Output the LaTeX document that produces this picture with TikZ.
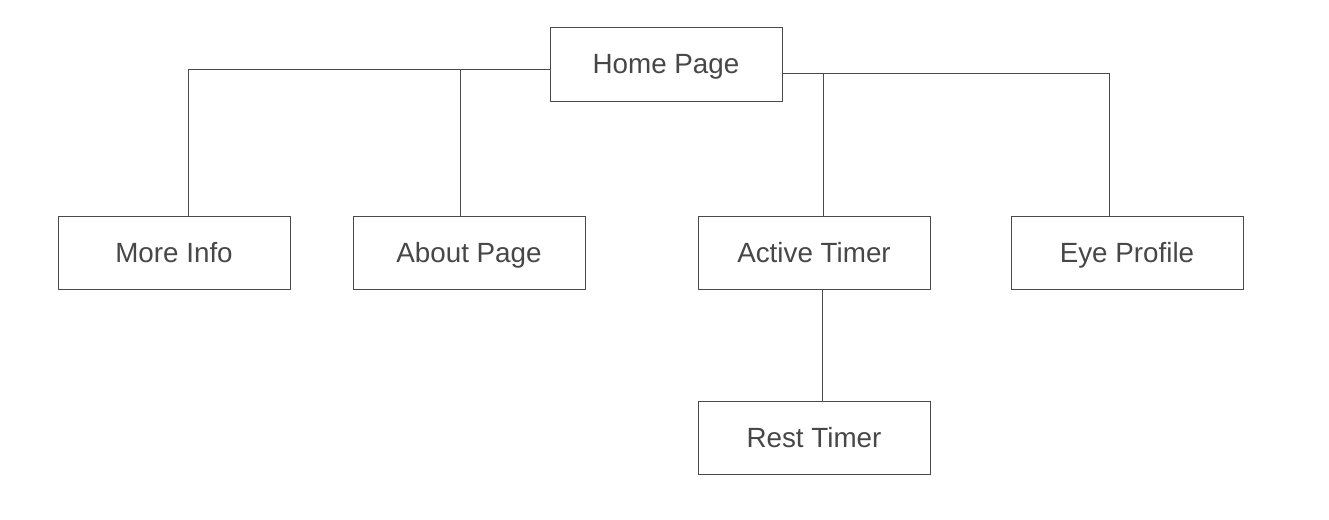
\documentclass[tikz,border=0pt]{standalone}
\usepackage{fontspec}
\setmainfont{Liberation Sans}
\begin{document}
\begin{tikzpicture}[x=1pt,y=-1pt,
  page/.style={draw=linegray, line width=1pt, minimum width=232pt, minimum height=73pt,
    inner sep=0pt, text height=22pt, text depth=3pt, text=textgray,
    font=\fontsize{27.8}{30}\selectfont},
  link/.style={draw=linegray, line width=1pt}]
\definecolor{linegray}{HTML}{4A4A4A}
\definecolor{textgray}{HTML}{474747}
\useasboundingbox (0,0) rectangle (1329,519);
% pages
\node[page] (home)   at (666,64.5)  {Home Page};
\node[page] (more)   at (174,252.5) {More Info};
\node[page] (about)  at (469,252.5) {About Page};
\node[page] (active) at (814,252.5) {Active Timer};
\node[page] (eye)    at (1127,252.5){Eye Profile};
\node[page] (rest)   at (814,437.5) {Rest Timer};
% branch points
\coordinate (lcorner) at (188,69);
\coordinate (ljoin)   at (460,69);
\coordinate (rcorner) at (1109,73);
\coordinate (rjoin)   at (823,73);
\coordinate (rtimer)  at (822,300);
% links
\draw[link] (home.west |- lcorner) -- (lcorner) -- (lcorner |- more.north);
\draw[link] (ljoin) -- (ljoin |- about.north);
\draw[link] (home.east |- rcorner) -- (rcorner) -- (rcorner |- eye.north);
\draw[link] (rjoin) -- (rjoin |- active.north);
\draw[link] (rtimer |- active.south) -- (rtimer |- rest.north);
\end{tikzpicture}
\end{document}
